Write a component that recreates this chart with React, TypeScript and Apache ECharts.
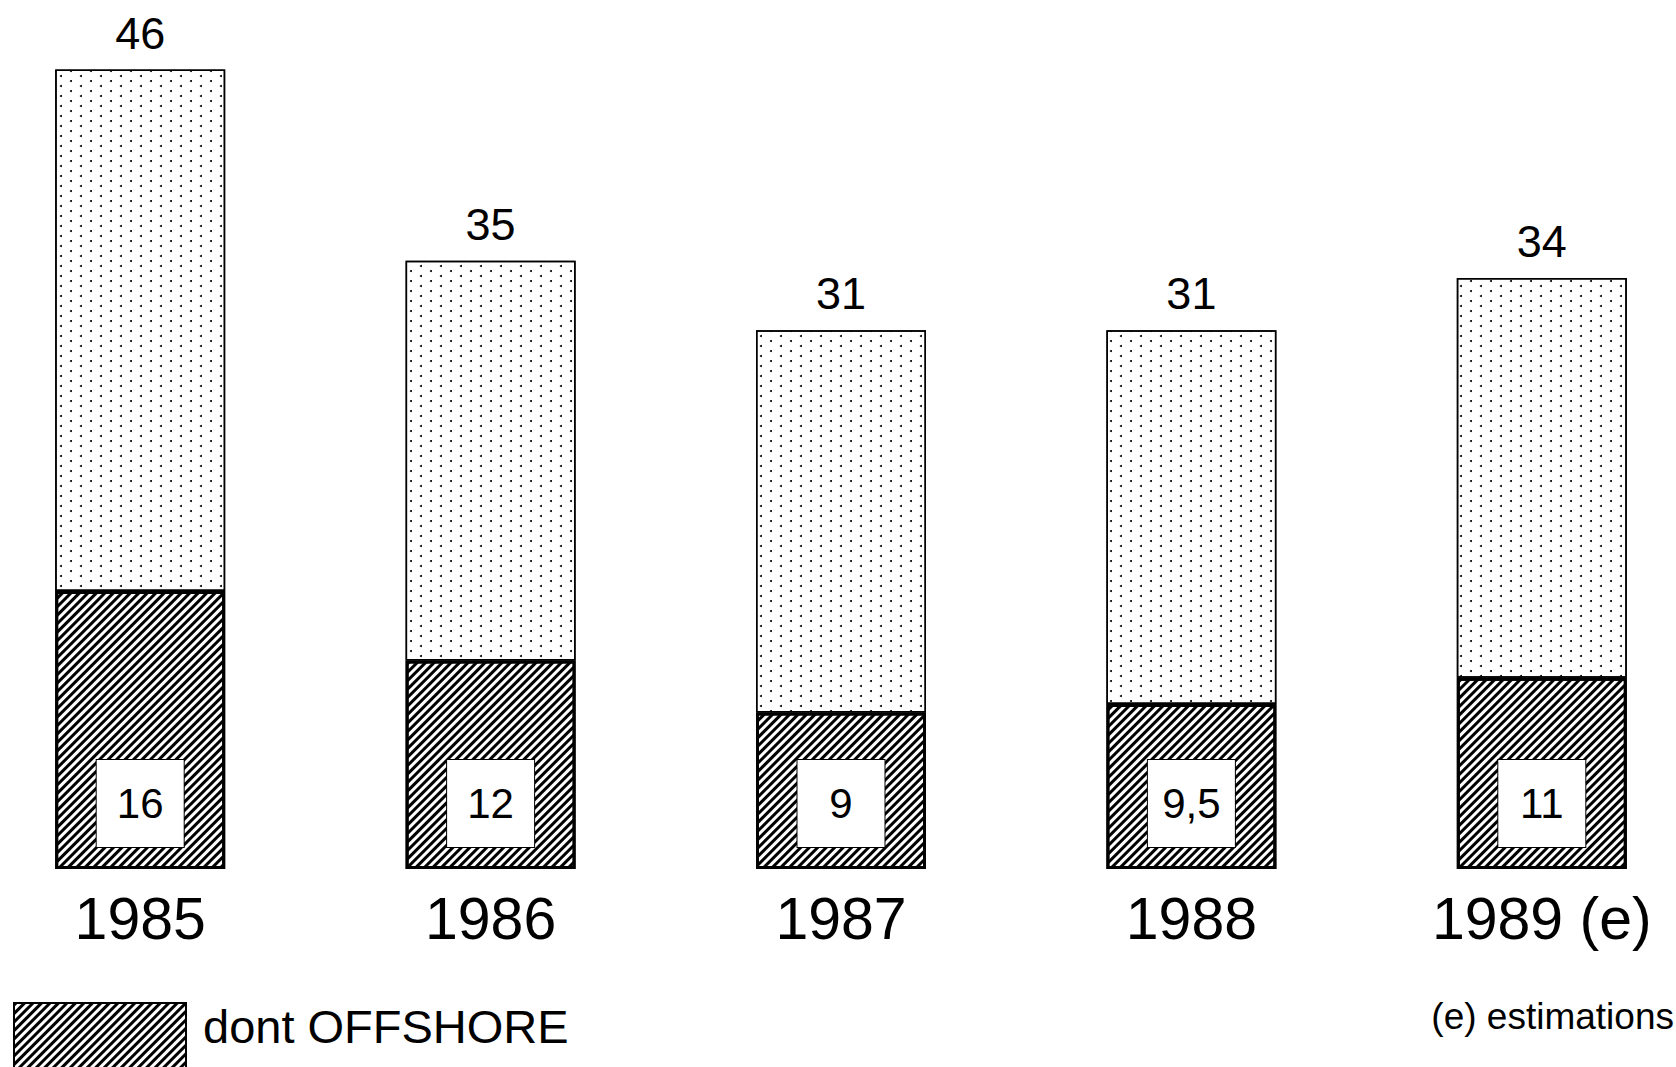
import React, { useEffect, useRef } from "react";
import * as echarts from "echarts";

const years = ["1985", "1986", "1987", "1988", "1989 (e)"];
const totals = [46, 35, 31, 31, 34];
const offshore = [16, 12, 9, 9.5, 11];
const rest = totals.map((t, i) => t - offshore[i]);
const legendLabel = "dont OFFSHORE";
const noteLabel = "(e) estimations";

const FONT = "'Liberation Sans', Arial, Helvetica, sans-serif";
const fmt = (v: number) => String(v).replace(".", ",");

const hatchDecal = {
  symbol: "rect",
  symbolSize: 1,
  symbolKeepAspect: false,
  color: "#000",
  backgroundColor: null,
  dashArrayX: [1, 0],
  dashArrayY: [3, 3],
  rotation: -Math.PI / 4,
  maxTileWidth: 512,
  maxTileHeight: 512,
};

const dotDecal = {
  symbol: "circle",
  symbolSize: 1,
  symbolKeepAspect: true,
  color: "#000",
  backgroundColor: null,
  dashArrayX: [
    [2, 18],
    [0, 10, 2, 8],
  ],
  dashArrayY: [2, 3],
  rotation: 0,
  maxTileWidth: 512,
  maxTileHeight: 512,
};

export default function App() {
  const ref = useRef<HTMLDivElement>(null);
  useEffect(() => {
    if (!ref.current) return;
    const chart = echarts.init(ref.current, null, { renderer: "svg" });
    chart.setOption({
      animation: false,
      backgroundColor: "#fff",
      aria: { enabled: true, decal: { show: true } },
      textStyle: { fontFamily: FONT },
      grid: {
        left: -35,
        width: 1752,
        top: 0,
        height: 869,
        outerBoundsMode: "none",
        containLabel: false,
      },
      xAxis: {
        type: "category",
        data: years,
        axisLine: { show: false },
        axisTick: { show: false },
        axisLabel: {
          interval: 0,
          fontSize: 59,
          color: "#000",
          margin: 20,
          fontFamily: FONT,
        },
      },
      yAxis: { type: "value", min: 0, max: 50, show: false },
      legend: {
        show: true,
        data: [legendLabel],
        icon: "rect",
        left: 13,
        top: 1002,
        itemWidth: 172,
        itemHeight: 70,
        selectedMode: false,
        padding: 0,
        formatter: () => "",
        textStyle: { fontSize: 10, color: "#000" },
      },
      graphic: [
        {
          type: "text",
          left: 203,
          top: 1003,
          style: {
            text: legendLabel,
            fontSize: 47,
            fill: "#000",
            fontFamily: FONT,
          },
        },
        {
          type: "text",
          right: 2,
          top: 998,
          style: {
            text: noteLabel,
            fontSize: 37,
            fill: "#000",
            fontFamily: FONT,
          },
        },
      ],
      series: [
        {
          name: legendLabel,
          type: "bar",
          stack: "total",
          barWidth: 170,
          data: offshore,
          itemStyle: {
            color: "#fff",
            borderColor: "#000",
            borderWidth: 3,
            decal: hatchDecal,
          },
          label: {
            show: true,
            position: "insideBottom",
            distance: 22,
            formatter: (p: any) => fmt(p.value),
            fontSize: 42,
            color: "#000",
            fontFamily: FONT,
            backgroundColor: "#fff",
            borderColor: "#000",
            borderWidth: 1,
            width: 87,
            height: 87,
            lineHeight: 87,
            align: "center",
          },
        },
        {
          name: "total",
          type: "bar",
          stack: "total",
          barWidth: 170,
          data: rest,
          itemStyle: {
            color: "#fff",
            borderColor: "#000",
            borderWidth: 1.5,
            decal: dotDecal,
          },
          label: {
            show: true,
            position: "top",
            distance: 14,
            formatter: (p: any) => fmt(totals[p.dataIndex]),
            fontSize: 45,
            color: "#000",
            fontFamily: FONT,
          },
        },
      ],
    });
    return () => chart.dispose();
  }, []);
  return (
    <div
      ref={ref}
      style={{ position: "fixed", left: 0, top: 0, width: 1676, height: 1067 }}
    />
  );
}
